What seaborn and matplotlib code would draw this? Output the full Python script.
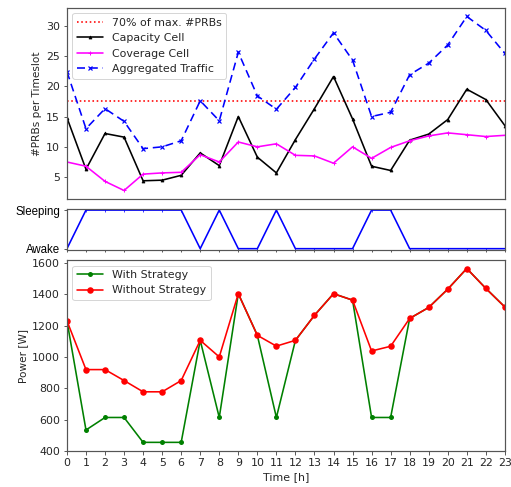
import numpy as np
import pandas as pd
import seaborn as sns
import matplotlib
matplotlib.use("Agg")
import matplotlib.pyplot as plt

# values
hours = list(range(24))
capacity = [14.8, 6.3, 12.2, 11.6, 4.4, 4.5, 5.3, 9.0, 6.9, 15.0, 8.3, 5.7,
            11.2, 16.3, 21.6, 14.6, 6.8, 6.1, 11.1, 12.1, 14.5, 19.5, 17.8, 13.5]
coverage = [7.5, 6.8, 4.3, 2.8, 5.5, 5.7, 5.8, 8.7, 7.5, 10.8, 10.0, 10.5,
            8.6, 8.5, 7.3, 10.0, 8.1, 9.9, 11.0, 11.8, 12.3, 12.0, 11.7, 11.9]
aggregated = [22.4, 13.0, 16.3, 14.2, 9.7, 10.0, 11.0, 17.6, 14.3, 25.6, 18.4, 16.2,
              19.8, 24.5, 28.8, 24.3, 15.0, 15.7, 21.9, 23.8, 26.8, 31.5, 29.2, 25.4]
threshold = 17.6

sleep_state = [0, 1, 1, 1, 1, 1, 1, 0, 1, 0, 0, 1,
               0, 0, 0, 0, 1, 1, 0, 0, 0, 0, 0, 0]
state_labels = ["Awake", "Sleeping"]

power_without = [1232, 920, 920, 850, 778, 778, 850, 1107, 1001, 1405, 1139, 1070,
                 1107, 1267, 1405, 1364, 1039, 1069, 1247, 1317, 1434, 1566, 1439, 1320]
power_with = [1232, 534, 614, 614, 455, 455, 455, 1107, 614, 1405, 1139, 614,
              1107, 1267, 1405, 1364, 614, 614, 1247, 1317, 1434, 1566, 1439, 1320]

df = pd.DataFrame({"hour": hours, "capacity": capacity, "coverage": coverage,
                   "aggregated": aggregated, "sleep": sleep_state,
                   "with": power_with, "without": power_without})

sns.set_style("ticks")
plt.rcParams["font.family"] = ["DejaVu Sans"]
plt.rcParams["font.size"] = 11

fig = plt.figure(figsize=(511 / 72, 487 / 72), dpi=72)
ax1 = fig.add_axes([0.131, 0.591, 0.857, 0.393])
ax2 = fig.add_axes([0.131, 0.487, 0.857, 0.084], sharex=ax1)
ax3 = fig.add_axes([0.131, 0.074, 0.857, 0.392], sharex=ax1)

# top panel: PRBs
ax1.axhline(threshold, color="red", linestyle=":", linewidth=1.6, label="70% of max. #PRBs")
sns.lineplot(data=df, x="hour", y="capacity", ax=ax1, color="black", marker="^",
             markersize=3, markeredgecolor="black", linewidth=1.6, label="Capacity Cell")
sns.lineplot(data=df, x="hour", y="coverage", ax=ax1, color="magenta", marker="+",
             markersize=4, markeredgecolor="magenta", markeredgewidth=1, linewidth=1.6,
             label="Coverage Cell")
sns.lineplot(data=df, x="hour", y="aggregated", ax=ax1, color="blue", marker="x",
             markersize=4.5, markeredgecolor="blue", markeredgewidth=1.2, linewidth=1.6,
             linestyle=(0, (5, 3)), label="Aggregated Traffic")
ax1.set_ylabel("#PRBs per Timeslot", fontsize=10.5)
ax1.set_xlabel("")
ax1.set_yticks([5, 10, 15, 20, 25, 30])
ax1.tick_params(axis="x", bottom=False, labelbottom=False)
ax1.legend(loc="upper left", fontsize=11, framealpha=0.8, handlelength=2.4)

# middle panel: sleep state
sns.lineplot(data=df, x="hour", y="sleep", ax=ax2, color="blue", marker="|",
             markersize=3, markeredgecolor="blue", linewidth=1.6)
ax2.set_ylim(-0.03, 1.03)
ax2.set_yticks([0, 1])
ax2.set_yticklabels(state_labels, family="Liberation Sans", fontsize=11.5, color="black")
ax2.set_ylabel("")
ax2.set_xlabel("")
ax2.tick_params(axis="x", labelbottom=False, length=2)

# bottom panel: power
sns.lineplot(data=df, x="hour", y="with", ax=ax3, color="green", marker="o",
             markersize=5, markeredgewidth=0, linewidth=1.6, label="With Strategy")
sns.lineplot(data=df, x="hour", y="without", ax=ax3, color="red", marker="o",
             markersize=6.5, markeredgewidth=0, linewidth=1.6, label="Without Strategy")
ax3.set_ylim(400, 1620)
ax3.set_xlim(0, 23)
ax3.set_xticks(hours)
ax3.set_ylabel("Power [W]", fontsize=10.5)
ax3.set_xlabel("Time [h]", fontsize=11)
ax3.legend(loc="upper left", fontsize=11, framealpha=0.8, handlelength=2.4)

for ax in (ax1, ax2, ax3):
    for sp in ax.spines.values():
        sp.set_visible(True)
        sp.set_color("#555555")
        sp.set_linewidth(1.2)
    ax.tick_params(colors="#333333", labelcolor="#262626")
ax2.tick_params(axis="y", labelcolor="black")

fig.savefig("out.png", dpi=72)
